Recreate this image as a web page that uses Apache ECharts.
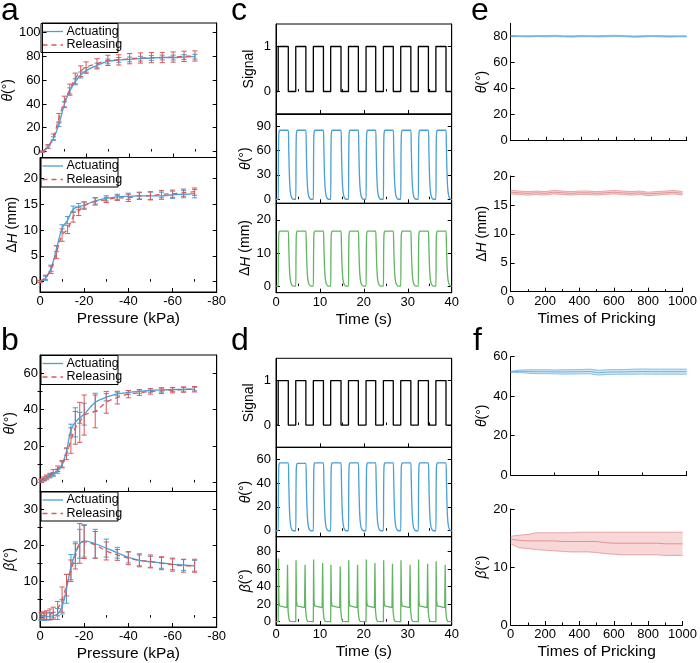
<!DOCTYPE html>
<html><head><meta charset="utf-8">
<script src="https://cdn.jsdelivr.net/npm/echarts@6/dist/echarts.min.js"></script>
<style>html,body{margin:0;padding:0;background:#fff}#c{width:700px;height:663px}</style>
</head><body><div id="c"></div>
<script>
// ---------- Panel a (pressure sweep) ----------
const A_PRESS = [0,-2.5,-5,-7.5,-10,-12.5,-15,-17.5,-20,-25,-30,-35,-40,-45,-50,-55,-60,-65,-70];
const A_THETA_ACT = [0,3.7,10.9,23,39.4,51,58.6,64.3,68,72.3,75.7,77,77.4,78,78.6,79,79,79.4,79.7];
const A_THETA_ACT_ERR = [0.5,1,1.5,2,2.5,2.5,2.5,2.5,2.5,2,2,2,2,2,2,2,2,2,2];
const A_THETA_REL = [0,4.3,12.3,28,42,52,61.4,67.5,71,73.7,76.6,77,78,78.6,78.9,79,79.4,80,80.3];
const A_THETA_REL_ERR = [0.5,1.5,2.5,4,4.5,4.7,4.5,4.5,4.3,4.3,4.3,4.3,4.3,4.3,4.3,4.3,4.3,4.3,4.3];
const A_DH_ACT = [0,0.65,2.6,6.4,10.3,11.9,14,14.5,14.8,15.6,16.1,16.4,16.5,16.6,16.6,16.6,16.8,16.9,17];
const A_DH_ACT_ERR = [0.2,0.4,0.6,0.6,0.7,0.7,0.6,0.6,0.6,0.6,0.5,0.5,0.6,0.6,0.7,0.7,0.7,0.7,0.8];
const A_DH_REL = [0,0.85,2.3,5.7,9,10.1,12.5,13.6,14.7,15.5,15.8,16.2,16.2,16.6,16.6,16.9,17,17.2,17.4];
const A_DH_REL_ERR = [0.2,0.4,0.7,1.2,1.2,0.8,1,0.8,0.7,0.7,0.5,0.5,0.7,0.7,0.8,0.7,0.7,0.7,0.7];
// ---------- Panel b ----------
const B_PRESS = [-0.5,-1.8,-3,-4.5,-6,-8,-10,-12,-14,-16,-18,-20,-25,-30,-35,-40,-45,-50,-55,-60,-65,-70];
const B_THETA_ACT = [0.7,1.5,2.4,3.5,4.4,6.2,9.9,17,29,33,35.5,37.5,44,46.8,48.6,49.4,50,50.5,50.8,51,51.1,51.3];
const B_THETA_ACT_ERR = [0.8,0.8,1,1,1,1.2,1.5,2,3,8,3,6,5,2,1,1,1,1,1.2,1,1,1];
const B_THETA_REL = [1,2,3,4,5.5,7.5,10,15.5,23,30,33,37,39,44,46.6,48.5,49.3,50,50.3,50.7,51,51.2];
const B_THETA_REL_ERR = [1,1,1,1,1.5,1.5,2,3,7,9,11,11,9,6,3.5,2,1.5,1.5,1.5,1.5,1.5,1.5];
const B_BETA_ACT = [0.2,0.2,0.3,0.4,0.5,1,3,8,14,18,20.5,21.3,20.5,19.3,18,16.7,15.9,15.5,15.2,14.8,14.6,14.4];
const B_BETA_ACT_ERR = [1,1,1,1,1,1.5,2,4,3.5,3,4,4.5,4,2.5,1.5,1.5,1.5,1.5,1.5,1.5,1.5,1.5];
const B_BETA_REL = [0.5,0.6,0.7,0.9,1.4,2.5,5,9,13,17,20.6,21,20.2,18.5,17.4,16.5,15.9,15.6,15.1,14.7,14.4,14.4];
const B_BETA_REL_ERR = [1,1,1.2,1.5,1.5,2,3.5,3,3,3.5,5.5,4.6,3.7,2.5,1.5,1.8,1.8,1.8,1.8,1.8,1.8,1.8];
// ---------- Panels c, d (cyclic actuation) ----------
const T_ON  = [0.5,4.5,8.5,12.45,16.5,20.5,24.45,28.4,32.4,36.4];
const T_OFF = [2.8,6.8,10.8,14.8,18.75,22.7,26.7,30.7,34.7,38.7];
const C_THETA_PEAK = [85,85,85,85,85,85,85,85,85,85];
const C_DH_PEAK = [16.6,16.6,16.6,16.6,16.6,16.6,16.6,16.6,16.6,16.6];
const D_THETA_PEAK = [57,56.5,57,57,57,57,57,57,57,57];
const D_BETA_ON_SPIKE = [72,70,71,65,70,71,70,70,71,69];
const D_BETA_OFF_SPIKE = [65,65,67,63,65,67,66,65,66,65];
const D_BETA_PLATEAU = [16,16,16,16,16,16,16,16,16,16];
// pulse shape: [time offset (s), fraction of plateau]
const RISE_SHAPE = [[0,0],[0.05,0.55],[0.12,0.92],[0.25,0.99],[0.4,1]];
const FALL_SHAPE = [[0,1],[0.08,0.8],[0.2,0.45],[0.35,0.2],[0.55,0.07],[0.8,0.02],[1.1,0]];
// ---------- Panels e, f (durability) ----------
const E_X = [0,50,100,150,200,250,300,350,400,450,500,550,600,650,700,750,800,850,900,950,1000];
const E_THETA_MEAN = [80.2,80.1,80.0,80.2,80.1,80.3,80.0,79.9,80.2,80.1,80.0,80.2,80.3,80.1,79.8,80.0,80.2,80.1,79.9,80.0,80.0];
const E_THETA_SD = [0.4,0.4,0.5,0.4,0.5,0.5,0.4,0.5,0.5,0.4,0.5,0.5,0.5,0.4,0.5,0.5,0.4,0.5,0.5,0.4,0.4];
const E_DH_MEAN = [17.2,17.1,17.0,17.1,17.0,17.2,17.1,17.0,17.1,17.1,17.0,17.1,17.2,17.1,17.0,17.1,16.9,17.0,17.1,17.2,17.0];
const E_DH_SD = [0.3,0.3,0.3,0.3,0.3,0.3,0.3,0.3,0.3,0.3,0.3,0.3,0.3,0.3,0.3,0.3,0.3,0.3,0.3,0.3,0.3];
const F_THETA_MEAN = [52.3,52.6,52.5,52.4,52.4,52.3,52.3,52.3,52.4,52.5,51.9,52.2,52.3,52.3,52.4,52.5,52.4,52.4,52.4,52.4,52.4];
const F_THETA_SD = [0.2,0.6,0.9,1.0,1.0,1.0,1.1,1.1,1.1,1.2,1.2,1.2,1.2,1.2,1.3,1.3,1.3,1.3,1.3,1.3,1.3];
const F_BETA_MEAN = [14.8,14.6,14.5,14.5,14.5,14.5,14.4,14.4,14.4,14.4,14.4,14.2,14.1,14.1,14.1,14.1,14.1,14.1,14.0,14.0,14.0];
const F_BETA_UP = [15.3,15.5,15.6,15.9,15.9,15.9,15.9,15.9,16.0,16.0,16.0,16.0,16.0,16.0,16.0,16.0,16.0,16.0,16.0,16.0,16.0];
const F_BETA_LO = [14.0,13.3,13.2,13.0,12.9,12.8,12.7,12.6,12.6,12.6,12.5,12.3,12.2,12.1,12.1,12.1,12.1,12.1,12.0,12.0,12.0];
const LEGEND_NAMES = ['Actuating', 'Releasing'];

const FONT = '"Liberation Sans", Arial, sans-serif';
const BLUE = '#4a9fd4', RED = '#d65a5a', GREEN = '#62b562';
const PINK_FILL = 'rgba(232,140,140,0.35)', PINK_EDGE = '#e29292';
const BLUE_FILL = 'rgba(120,185,225,0.35)', BLUE_EDGE = '#73b3de';

const grids = [], xAxes = [], yAxes = [], series = [], graphics = [];
function addGrid(l, t, w, h, box) {
  grids.push({left: l, top: t, width: w, height: h, show: !!box, borderColor: '#000', borderWidth: 1, backgroundColor: 'transparent'});
  return grids.length - 1;
}
const richName = {
  i: {fontStyle: 'italic', fontSize: 14, fontFamily: FONT, color: '#000'},
  n: {fontSize: 14, fontFamily: FONT, color: '#000'}
};
function mkAxis(dim, grid, o) {
  const list = dim === 'x' ? xAxes : yAxes;
  const base = {
    type: 'value', gridIndex: grid, min: o.min, max: o.max, inverse: !!o.inverse, position: o.position,
    splitLine: {show: false},
    axisLine: {show: o.line !== false, onZero: false, lineStyle: {color: '#000', width: 1}},
    axisTick: {show: true, inside: true, length: 4, customValues: o.majors, lineStyle: {color: '#000', width: 1}},
    axisLabel: {show: !!o.labels, customValues: o.majors, margin: o.margin || 3, fontSize: 13, color: '#000', fontFamily: FONT,
      formatter: v => String(v)},
    minorTick: {show: false}
  };
  if (o.name) {
    base.name = o.name; base.nameLocation = 'middle'; base.nameGap = o.nameGap;
    base.nameTextStyle = {fontSize: o.nameSize || 14, fontFamily: FONT, color: '#000', rich: richName};
  }
  list.push(base);
  const idx = list.length - 1;
  if (o.minors) {
    list.push({type: 'value', gridIndex: grid, min: o.min, max: o.max, inverse: !!o.inverse, position: o.position,
      splitLine: {show: false}, axisLine: {show: false},
      axisTick: {show: true, inside: true, length: 2.5, customValues: o.minors, lineStyle: {color: '#000', width: 1}},
      axisLabel: {show: false}});
  }
  return idx;
}
function errSeries(xi, yi, xs, ys, es, color, z) {
  return {
    type: 'custom', xAxisIndex: xi, yAxisIndex: yi, z: z, silent: true,
    data: xs.map((x, k) => [x, ys[k], es[k]]),
    renderItem: function (params, api) {
      const x = api.value(0), y = api.value(1), e = api.value(2);
      const p1 = api.coord([x, y + e]), p2 = api.coord([x, y - e]);
      const cw = 2.6, st = {stroke: color, lineWidth: 1};
      return {type: 'group', children: [
        {type: 'line', shape: {x1: p1[0], y1: p1[1], x2: p2[0], y2: p2[1]}, style: st},
        {type: 'line', shape: {x1: p1[0] - cw, y1: p1[1], x2: p1[0] + cw, y2: p1[1]}, style: st},
        {type: 'line', shape: {x1: p2[0] - cw, y1: p2[1], x2: p2[0] + cw, y2: p2[1]}, style: st}
      ]};
    }
  };
}
function pairPanel(xi, yi, xs, act, actErr, rel, relErr) {
  series.push(errSeries(xi, yi, xs, act, actErr, BLUE, 3));
  series.push(errSeries(xi, yi, xs, rel, relErr, RED, 4));
  series.push({type: 'line', name: LEGEND_NAMES[0], xAxisIndex: xi, yAxisIndex: yi, data: xs.map((x, k) => [x, act[k]]),
    smooth: 0.35, symbol: 'none', lineStyle: {color: BLUE, width: 1.3}, itemStyle: {color: BLUE}, z: 5});
  series.push({type: 'line', name: LEGEND_NAMES[1], xAxisIndex: xi, yAxisIndex: yi, data: xs.map((x, k) => [x, rel[k]]),
    smooth: 0.35, symbol: 'none', lineStyle: {color: RED, width: 1.3, type: [5, 4]}, itemStyle: {color: RED}, z: 6});
}
// boxed legend (drawn as graphic: keys are styles, not data)
function addLegend(left, top) {
  graphics.push({type: 'group', left: left, top: top, z: 30, children: [
    {type: 'rect', shape: {x: 0, y: 0, width: 77, height: 29}, style: {fill: '#fff', stroke: '#000', lineWidth: 1}},
    {type: 'line', shape: {x1: 1.5, y1: 8, x2: 22, y2: 8}, style: {stroke: BLUE, lineWidth: 1.3}},
    {type: 'line', shape: {x1: 1.5, y1: 21.5, x2: 22, y2: 21.5}, style: {stroke: RED, lineWidth: 1.3, lineDash: [5, 4]}},
    {type: 'text', x: 25.5, y: 8, style: {text: LEGEND_NAMES[0], font: '12.5px ' + FONT, fill: '#000', verticalAlign: 'middle'}},
    {type: 'text', x: 25.5, y: 21.5, style: {text: LEGEND_NAMES[1], font: '12.5px ' + FONT, fill: '#000', verticalAlign: 'middle'}}
  ]});
}
function boxedY(grid, min, max, majors, minors, name, gap, margin) {
  const yi = mkAxis('y', grid, {min, max, majors, minors, labels: true, position: 'left', name, nameGap: gap, margin});
  mkAxis('y', grid, {min, max, majors, minors, labels: false, position: 'right'});
  return yi;
}
const TH = '{i|θ}{n|(°)}', DH = '{n|Δ}{i|H}{n| (mm)}', BE = '{i|β}{n|(°)}';

// ---- panel a ----
const PX_MAJ = [0, -20, -40, -60, -80], PX_MIN = [-10, -30, -50, -70];
let g = addGrid(40, 23, 176.7, 134.5, true);
let xi = mkAxis('x', g, {min: -80, max: 0, inverse: true, majors: PX_MAJ, minors: PX_MIN, labels: false, position: 'bottom'});
let yi = boxedY(g, -5, 108, [0, 20, 40, 60, 80, 100], null, TH, 23, 2);
pairPanel(xi, yi, A_PRESS, A_THETA_ACT, A_THETA_ACT_ERR, A_THETA_REL, A_THETA_REL_ERR);
addLegend(40, 23);
g = addGrid(40, 157.5, 176.7, 134.5, true);
xi = mkAxis('x', g, {min: -80, max: 0, inverse: true, majors: PX_MAJ, minors: PX_MIN, labels: true, position: 'bottom', name: 'Pressure (kPa)', nameGap: 19, nameSize: 15.5});
yi = boxedY(g, -2, 24, [0, 5, 10, 15, 20], null, DH, 20, 2);
pairPanel(xi, yi, A_PRESS, A_DH_ACT, A_DH_ACT_ERR, A_DH_REL, A_DH_REL_ERR);
addLegend(40, 157.5);
// ---- panel b ----
g = addGrid(40, 355, 176.7, 136.5, true);
xi = mkAxis('x', g, {min: -80, max: 0, inverse: true, majors: PX_MAJ, minors: PX_MIN, labels: false, position: 'bottom'});
yi = boxedY(g, -5, 70, [0, 20, 40, 60], [10, 30, 50], TH, 23, 2);
pairPanel(xi, yi, B_PRESS, B_THETA_ACT, B_THETA_ACT_ERR, B_THETA_REL, B_THETA_REL_ERR);
addLegend(40, 355);
g = addGrid(40, 491.5, 176.7, 136.2, true);
xi = mkAxis('x', g, {min: -80, max: 0, inverse: true, majors: PX_MAJ, minors: PX_MIN, labels: true, position: 'bottom', name: 'Pressure (kPa)', nameGap: 19, nameSize: 15.5});
yi = boxedY(g, -2.6, 35, [0, 10, 20, 30], [5, 15, 25], BE, 23, 2);
pairPanel(xi, yi, B_PRESS, B_BETA_ACT, B_BETA_ACT_ERR, B_BETA_REL, B_BETA_REL_ERR);
addLegend(40, 491.5);

// ---- panels c, d ----
function signalPoints(tOn, tOff, tEnd) {
  const p = [[0, 0]];
  tOn.forEach((t, k) => { p.push([t, 0], [t, 1], [tOff[k], 1], [tOff[k], 0]); });
  p.push([tEnd, 0]);
  return p;
}
function pulsePoints(tOn, tOff, levels, tEnd) {
  const p = [[0, 0]];
  tOn.forEach((t, k) => {
    RISE_SHAPE.forEach(s => p.push([t + s[0], s[1] * levels[k]]));
    FALL_SHAPE.forEach(s => p.push([tOff[k] + s[0], s[1] * levels[k]]));
  });
  p.push([tEnd, 0]);
  return p;
}
function betaPoints(tOn, tOff, onSp, offSp, plat, tEnd) {
  const p = [[0, 0]];
  tOn.forEach((t, k) => {
    p.push([t, 0], [t + 0.06, onSp[k]], [t + 0.16, 24], [t + 0.3, plat[k] + 2], [t + 0.6, plat[k]],
      [tOff[k] - 0.3, plat[k]], [tOff[k] - 0.18, offSp[k]], [tOff[k] - 0.05, 12], [tOff[k] + 0.15, 3], [tOff[k] + 0.4, 0.3], [tOff[k] + 0.7, 0]);
  });
  p.push([tEnd, 0]);
  return p;
}
const TX_MAJ = [0, 10, 20, 30, 40], TX_MIN = [5, 15, 25, 35];
function cdPanel(top, thetaMin, thetaMax, thetaMaj, thetaPeaks, thirdCfg) {
  let gg = addGrid(276, top[0], 175.7, top[1] - top[0], true);
  let xx = mkAxis('x', gg, {min: 0, max: 40, majors: TX_MAJ, minors: TX_MIN, labels: false, position: 'bottom'});
  let yy = boxedY(gg, -0.5, 1.5, [0, 1], null, '{n|Signal}', 20, 5);
  series.push({type: 'line', xAxisIndex: xx, yAxisIndex: yy, data: signalPoints(T_ON, T_OFF, 40), symbol: 'none',
    lineStyle: {color: '#000', width: 1.3}});
  gg = addGrid(276, top[1], 175.7, top[2] - top[1], true);
  xx = mkAxis('x', gg, {min: 0, max: 40, majors: TX_MAJ, minors: TX_MIN, labels: false, position: 'bottom'});
  yy = boxedY(gg, thetaMin, thetaMax, thetaMaj, null, TH, 20, 5);
  series.push({type: 'line', xAxisIndex: xx, yAxisIndex: yy, data: pulsePoints(T_ON, T_OFF, thetaPeaks, 40), symbol: 'none',
    smooth: 0.2, lineStyle: {color: BLUE, width: 1.3}});
  gg = addGrid(276, top[2], 175.7, top[3] - top[2], true);
  xx = mkAxis('x', gg, {min: 0, max: 40, majors: TX_MAJ, minors: TX_MIN, labels: true, position: 'bottom', name: 'Time (s)', nameGap: 19, nameSize: 15.5});
  yy = boxedY(gg, thirdCfg.min, thirdCfg.max, thirdCfg.majors, null, thirdCfg.name, 20, 5);
  series.push({type: 'line', xAxisIndex: xx, yAxisIndex: yy, data: thirdCfg.data, symbol: 'none',
    smooth: thirdCfg.smooth, lineStyle: {color: GREEN, width: 1.3}});
}
cdPanel([24, 114, 203.3, 292.7], -5, 105, [0, 30, 60, 90], C_THETA_PEAK,
  {min: -2, max: 25, majors: [0, 10, 20], name: DH, data: pulsePoints(T_ON, T_OFF, C_DH_PEAK, 40), smooth: 0.2});
cdPanel([358.3, 447.3, 536.7, 625], -5, 70, [0, 20, 40, 60], D_THETA_PEAK,
  {min: -3.8, max: 97, majors: [0, 20, 40, 60, 80], name: BE, data: betaPoints(T_ON, T_OFF, D_BETA_ON_SPIKE, D_BETA_OFF_SPIKE, D_BETA_PLATEAU, 40), smooth: false});

// ---- panels e, f ----
function bandSeries(xi2, yi2, xs, lo, up, mean, fill, edge) {
  series.push({type: 'custom', xAxisIndex: xi2, yAxisIndex: yi2, silent: true, z: 2,
    data: xs.map((x, k) => [x, lo[k], up[k]]), encode: {x: 0, y: [1, 2]},
    renderItem: function (params, api) {
      if (params.dataIndex !== 0) return null;
      const topP = xs.map((x, k) => api.coord([x, up[k]]));
      const botP = xs.map((x, k) => api.coord([x, lo[k]]));
      return {type: 'group', children: [
        {type: 'polygon', shape: {points: topP.concat(botP.slice().reverse())}, style: {fill: fill}},
        {type: 'polyline', shape: {points: topP}, style: {stroke: edge, lineWidth: 0.8, fill: null}},
        {type: 'polyline', shape: {points: botP}, style: {stroke: edge, lineWidth: 0.8, fill: null}}
      ]};
    }});
  series.push({type: 'line', xAxisIndex: xi2, yAxisIndex: yi2, symbol: 'none', z: 3,
    data: xs.map((x, k) => [x, mean[k]]), lineStyle: {color: edge, width: 1}});
}
const NX_MAJ = [0, 200, 400, 600, 800, 1000], NX_MIN = [100, 300, 500, 700, 900];
function openY(grid, min, max, majors, name, gap) {
  return mkAxis('y', grid, {min, max, majors, labels: true, position: 'left', name, nameGap: gap, margin: 3});
}
g = addGrid(510.7, 23.3, 176, 117.4, false);
xi = mkAxis('x', g, {min: 0, max: 1000, majors: NX_MAJ, minors: NX_MIN, labels: false, position: 'bottom'});
yi = openY(g, 0, 90, [0, 20, 40, 60, 80], TH, 20);
bandSeries(xi, yi, E_X, E_THETA_MEAN.map((m, k) => m - E_THETA_SD[k]), E_THETA_MEAN.map((m, k) => m + E_THETA_SD[k]), E_THETA_MEAN, BLUE_FILL, BLUE_EDGE);
g = addGrid(510.7, 176, 176, 115.7, false);
xi = mkAxis('x', g, {min: 0, max: 1000, majors: NX_MAJ, minors: NX_MIN, labels: true, position: 'bottom', name: 'Times of Pricking', nameGap: 19, nameSize: 15.5});
yi = openY(g, 0, 20, [0, 5, 10, 15, 20], DH, 18);
bandSeries(xi, yi, E_X, E_DH_MEAN.map((m, k) => m - E_DH_SD[k]), E_DH_MEAN.map((m, k) => m + E_DH_SD[k]), E_DH_MEAN, PINK_FILL, PINK_EDGE);
g = addGrid(510.7, 356.7, 176, 118.3, false);
xi = mkAxis('x', g, {min: 0, max: 1000, majors: [0, 500, 1000], minors: [250, 750], labels: false, position: 'bottom'});
yi = openY(g, 0, 60, [0, 20, 40, 60], TH, 20);
bandSeries(xi, yi, E_X, F_THETA_MEAN.map((m, k) => m - F_THETA_SD[k]), F_THETA_MEAN.map((m, k) => m + F_THETA_SD[k]), F_THETA_MEAN, BLUE_FILL, BLUE_EDGE);
g = addGrid(510.7, 509, 176, 116, false);
xi = mkAxis('x', g, {min: 0, max: 1000, majors: NX_MAJ, minors: NX_MIN, labels: true, position: 'bottom', name: 'Times of Pricking', nameGap: 19, nameSize: 15.5});
yi = openY(g, 0, 20, [0, 10, 20], BE, 20);
bandSeries(xi, yi, E_X, F_BETA_LO, F_BETA_UP, F_BETA_MEAN, PINK_FILL, PINK_EDGE);

const letters = [['a', 1, -5], ['b', 1, 325], ['c', 231, -5], ['d', 231, 325], ['e', 471, -5], ['f', 473, 325]];
letters.forEach(L => graphics.push({type: 'text', left: L[1], top: L[2], z: 20,
  style: {text: L[0], font: '32px ' + FONT, fill: '#000'}}));
const chart = echarts.init(document.getElementById('c'), null, {renderer: 'canvas'});
chart.setOption({
  animation: false, backgroundColor: '#fff',
  grid: grids, xAxis: xAxes, yAxis: yAxes, series: series, graphic: graphics
});
</script></body></html>
